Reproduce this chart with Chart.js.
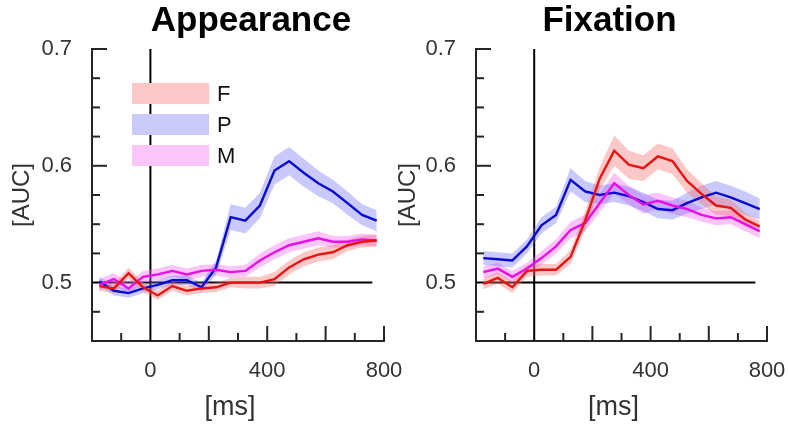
<!DOCTYPE html>
<html><head><meta charset="utf-8">
<script src="https://cdn.jsdelivr.net/npm/chart.js@4.4.1/dist/chart.umd.min.js"></script>
<style>
html,body{margin:0;padding:0;background:#fff;}
#wrap{position:relative;width:788px;height:424px;overflow:hidden;background:#fff;}
canvas{position:absolute;top:0;}
</style></head><body>
<div id="wrap">
<canvas id="c1" width="420" height="424" style="left:0;width:420px;height:424px"></canvas>
<canvas id="c2" width="409" height="424" style="left:394px;width:409px;height:424px"></canvas>
</div>
<script>
// ---------- data ----------
const TIMES = [-175,-125,-75,-25,25,75,125,175,225,275,325,375,425,475,525,575,625,675,725,775];
const SERIES_NAMES = ['F','P','M'];
const PANEL_TITLES = ['Appearance','Fixation'];
const X_LABEL = '[ms]';
const Y_LABEL = '[AUC]';
const X_TICK_LABELS = [0,400,800];
const Y_TICK_LABELS = [0.5,0.6,0.7];
const X_MAJOR_TICKS = [200,400,600,800];
const X_MINOR_TICKS = [-100,100,300,500,700];
const Y_MAJOR_TICKS = [0.6,0.7];
const Y_MINOR_TICKS = [0.475,0.525,0.55,0.575,0.625,0.65,0.675];
const X_RANGE = [-200,800];
const Y_RANGE = [0.45,0.7];
const CHANCE = 0.5;
const CHANCE_LINE_X = [-200,760];
const ONSET = 0;

// Appearance panel
const APP_F = [0.497,0.495,0.508,0.496,0.489,0.497,0.493,0.495,0.496,0.500,0.500,0.500,0.503,0.513,0.520,0.524,0.526,0.532,0.535,0.536];
const APP_P = [0.501,0.493,0.491,0.495,0.498,0.502,0.502,0.496,0.513,0.556,0.553,0.566,0.596,0.604,0.594,0.585,0.578,0.568,0.558,0.553];
const APP_M = [0.498,0.503,0.495,0.505,0.507,0.510,0.507,0.510,0.511,0.509,0.510,0.519,0.526,0.532,0.535,0.538,0.535,0.535,0.537,0.536];
const APP_F_ERR = [0.004,0.004,0.005,0.004,0.004,0.004,0.004,0.004,0.004,0.004,0.005,0.005,0.006,0.006,0.006,0.006,0.006,0.005,0.005,0.005];
const APP_P_ERR = [0.004,0.004,0.004,0.004,0.004,0.004,0.004,0.004,0.006,0.011,0.011,0.011,0.012,0.012,0.012,0.011,0.010,0.010,0.009,0.009];
const APP_M_ERR = [0.005,0.005,0.005,0.005,0.005,0.005,0.005,0.005,0.005,0.005,0.005,0.006,0.006,0.006,0.006,0.006,0.005,0.005,0.005,0.005];

// Fixation panel
const FIX_F = [0.499,0.504,0.496,0.510,0.511,0.511,0.522,0.553,0.589,0.613,0.601,0.598,0.608,0.604,0.587,0.576,0.566,0.564,0.554,0.548];
const FIX_P = [0.521,0.520,0.519,0.531,0.549,0.558,0.588,0.578,0.575,0.577,0.574,0.569,0.563,0.562,0.568,0.573,0.577,0.573,0.568,0.563];
const FIX_M = [0.509,0.512,0.505,0.512,0.521,0.531,0.545,0.551,0.568,0.585,0.575,0.567,0.570,0.566,0.563,0.558,0.555,0.556,0.550,0.544];
const FIX_F_ERR = [0.005,0.005,0.005,0.005,0.005,0.005,0.006,0.008,0.010,0.013,0.012,0.011,0.011,0.011,0.010,0.009,0.008,0.007,0.006,0.005];
const FIX_P_ERR = [0.006,0.006,0.006,0.006,0.007,0.007,0.010,0.009,0.008,0.008,0.008,0.008,0.008,0.008,0.009,0.010,0.010,0.010,0.010,0.009];
const FIX_M_ERR = [0.005,0.005,0.005,0.005,0.006,0.006,0.007,0.007,0.008,0.009,0.008,0.008,0.007,0.007,0.007,0.006,0.006,0.006,0.006,0.006];

// ---------- styles ----------
const LINE_COLORS = {F:'#e81414', P:'#0a0ad2', M:'#e610e6'};
const BAND_COLORS = {F:'rgba(245,110,110,0.38)', P:'rgba(105,105,245,0.36)', M:'rgba(245,100,245,0.38)'};
const LEGEND_COLORS = {F:'#fcc8c8', P:'#c9c9fa', M:'#fcc6fc'};
const AXIS_COLOR = '#262626';
const TEXT_COLOR = '#333333';
const FONT = '"Liberation Sans", Arial, Helvetica, sans-serif';

function pts(vals, err, sign){
  return TIMES.map((t,i)=>({x:t, y: vals[i] + sign*(err ? err[i] : 0)}));
}

function buildDatasets(series){
  const ds = [];
  ds.push({label:'_chance', data:CHANCE_LINE_X.map(x=>({x, y:CHANCE})), borderColor:'#000', borderWidth:2, pointRadius:0, fill:false, order:100});
  ds.push({label:'_onset', data:Y_RANGE.map(y=>({x:ONSET, y})), borderColor:'#000', borderWidth:2, pointRadius:0, fill:false, order:100});
  const lineOrder = {P:3, M:2, F:1};
  series.forEach(s=>{
    ds.push({label:'_'+s.name+'_hi', data:pts(s.vals, s.err, 1), borderWidth:0, borderColor:'rgba(0,0,0,0)', pointRadius:0, fill:'+1', backgroundColor:BAND_COLORS[s.name], order:50});
    ds.push({label:'_'+s.name+'_lo', data:pts(s.vals, s.err, -1), borderWidth:0, borderColor:'rgba(0,0,0,0)', pointRadius:0, fill:false, order:50});
  });
  series.forEach(s=>{
    ds.push({label:s.name, data:pts(s.vals, null, 0), borderColor:LINE_COLORS[s.name], borderWidth:2.4, pointRadius:0, fill:false, tension:0, order:lineOrder[s.name]});
  });
  return ds;
}

const decorPlugin = {
  id:'decor',
  afterDraw(chart, args, o){
    const ctx = chart.ctx, xs = chart.scales.x, ys = chart.scales.y, ca = chart.chartArea;
    ctx.save();
    ctx.strokeStyle = AXIS_COLOR; ctx.lineWidth = 2; ctx.lineCap = 'butt';
    const seg = (x1,y1,x2,y2)=>{ctx.beginPath();ctx.moveTo(x1,y1);ctx.lineTo(x2,y2);ctx.stroke();};
    X_MAJOR_TICKS.forEach(v=>{const p=xs.getPixelForValue(v); seg(p, ca.bottom, p, ca.bottom-15);});
    X_MINOR_TICKS.forEach(v=>{const p=xs.getPixelForValue(v); seg(p, ca.bottom, p, ca.bottom-8);});
    Y_MAJOR_TICKS.forEach(v=>{const p=ys.getPixelForValue(v); seg(ca.left, p, ca.left+15, p);});
    Y_MINOR_TICKS.forEach(v=>{const p=ys.getPixelForValue(v); seg(ca.left, p, ca.left+8, p);});
    // title
    ctx.fillStyle = '#000';
    ctx.font = 'bold 35px ' + FONT;
    ctx.textAlign = 'center'; ctx.textBaseline = 'alphabetic';
    ctx.fillText(o.title, (ca.left+ca.right)/2 + o.titleDx, 31);
    // x label
    ctx.fillStyle = TEXT_COLOR;
    ctx.font = '27px ' + FONT;
    ctx.fillText(X_LABEL, (ca.left+ca.right)/2 + o.xLabelDx, 415);
    // y label
    ctx.save();
    ctx.translate(o.yLabelX, (ca.top+ca.bottom)/2);
    ctx.rotate(-Math.PI/2);
    ctx.font = '24px ' + FONT;
    ctx.textBaseline = 'middle';
    ctx.fillText(Y_LABEL, 0, 0);
    ctx.restore();
    // legend
    if (o.legend){
      const bx = ca.left + 40, by0 = ca.top + 34, bw = 77, bh = 21, step = 31;
      SERIES_NAMES.forEach((n,i)=>{
        const by = by0 + i*step;
        ctx.fillStyle = LEGEND_COLORS[n];
        ctx.fillRect(bx, by, bw, bh);
        ctx.fillStyle = '#111';
        ctx.font = '22px ' + FONT;
        ctx.textAlign = 'left'; ctx.textBaseline = 'middle';
        ctx.fillText(n, bx + bw + 8, by + bh/2 + 1);
      });
    }
    ctx.restore();
  }
};

function makeChart(id, series, yWidth, padRight, decor){
  return new Chart(document.getElementById(id), {
    type:'line',
    data:{datasets:buildDatasets(series)},
    options:{
      responsive:false, animation:false, devicePixelRatio:1,
      layout:{padding:{top:49, right:padRight, bottom:0, left:0}},
      plugins:{legend:{display:false}, tooltip:{enabled:false}, title:{display:false},
               filler:{propagate:false}, decor:decor},
      scales:{
        x:{type:'linear', min:X_RANGE[0], max:X_RANGE[1],
           grid:{display:false, drawTicks:false},
           border:{display:true, color:AXIS_COLOR, width:2},
           ticks:{color:TEXT_COLOR, font:{family:FONT, size:22}, padding:17, maxRotation:0, autoSkip:false,
                  callback:(v)=>String(v)},
           afterBuildTicks:(s)=>{s.ticks = X_TICK_LABELS.map(v=>({value:v}));},
           afterFit:(s)=>{s.height = 83;}},
        y:{type:'linear', min:Y_RANGE[0], max:Y_RANGE[1],
           grid:{display:false, drawTicks:false},
           border:{display:true, color:AXIS_COLOR, width:2},
           ticks:{color:TEXT_COLOR, font:{family:FONT, size:22}, padding:20, autoSkip:false,
                  callback:(v)=>Number(v).toFixed(1)},
           afterBuildTicks:(s)=>{s.ticks = Y_TICK_LABELS.map(v=>({value:v}));},
           afterFit:(s)=>{s.width = yWidth;}}
      }
    },
    plugins:[decorPlugin]
  });
}

makeChart('c1', [
  {name:'F', vals:APP_F, err:APP_F_ERR},
  {name:'P', vals:APP_P, err:APP_P_ERR},
  {name:'M', vals:APP_M, err:APP_M_ERR}
], 92, 36, {title:PANEL_TITLES[0], titleDx:13, xLabelDx:-8, yLabelX:22, legend:true});

makeChart('c2', [
  {name:'F', vals:FIX_F, err:FIX_F_ERR},
  {name:'P', vals:FIX_P, err:FIX_P_ERR},
  {name:'M', vals:FIX_M, err:FIX_M_ERR}
], 82, 36, {title:PANEL_TITLES[1], titleDx:-12, xLabelDx:-8, yLabelX:14, legend:false});
</script>
</body></html>
